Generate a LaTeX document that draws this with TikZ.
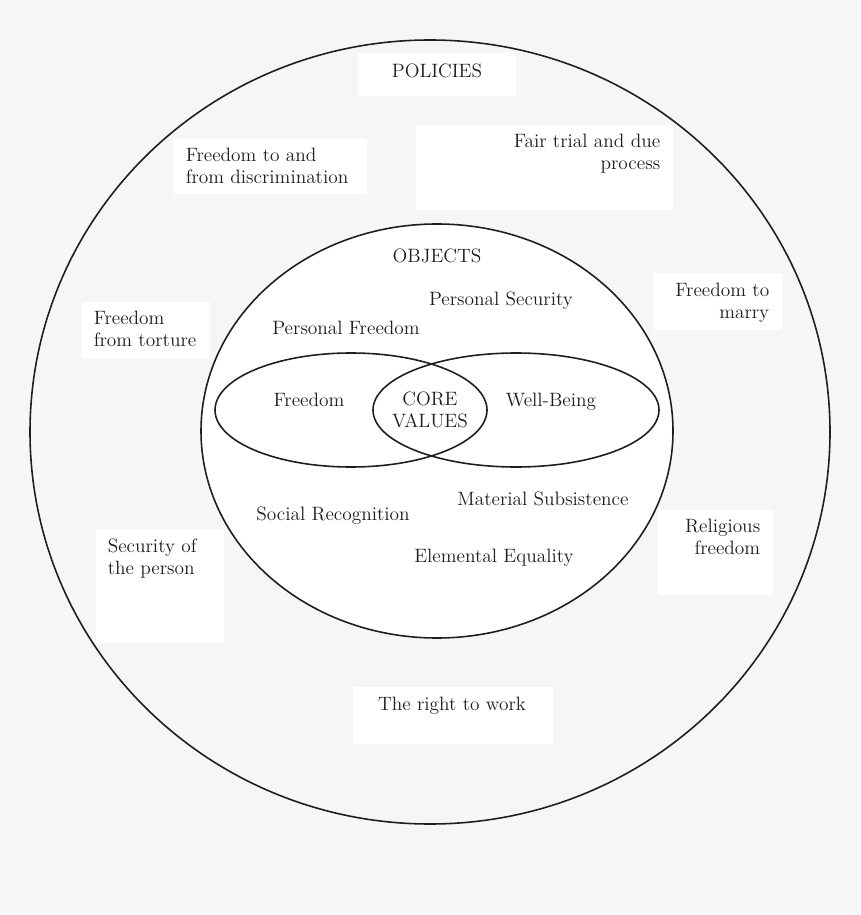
\documentclass[tikz,border=0pt]{standalone}
\usepackage{tikz}
\definecolor{bggray}{HTML}{F6F6F6}
\definecolor{inkgray}{HTML}{1E1E1E}
\tikzset{every picture/.style={line width=0.9pt}}

\begin{document}
\begin{tikzpicture}[x=0.02cm, y=-0.02cm,
    every node/.style={font=\fontsize{11}{12.5}\selectfont, inner sep=0pt, text=inkgray},
    whitebox/.style={fill=white},
    ring/.style={draw=inkgray}]
        \fill[bggray] (0,0) rectangle (860,915);
        \useasboundingbox (0,0) rectangle (860,915);
        % white label boxes of the policies ring
        \fill[whitebox] (358,53) rectangle (516,96);
        \fill[whitebox] (173,139) rectangle (367,194);
        \fill[whitebox] (416,125) rectangle (673,210);
        \fill[whitebox] (653,273) rectangle (782,330);
        \fill[whitebox] (82,302) rectangle (210,358);
        \fill[whitebox] (96,530) rectangle (224,643);
        \fill[whitebox] (658,510) rectangle (773,595);
        \fill[whitebox] (353,687) rectangle (553,744);
        % policies ring and objects ring
        \draw[ring] (430,432) ellipse [x radius=400, y radius=392];
        \draw[ring, fill=white] (437,431) ellipse [x radius=236, y radius=207];
        % freedom and well-being overlap in the core values
        \draw[ring] (351,410) ellipse [x radius=136, y radius=57];
        \draw[ring] (516,410) ellipse [x radius=143, y radius=57];
        % policies
        \node[anchor=base] (policies) at (437,78) {POLICIES};
        \node[anchor=west, align=left] (discrim) at (185,166) {Freedom to and\\from discrimination};
        \node[anchor=east, align=right] (trial) at (661,154) {Fair trial and due\\process};
        \node[anchor=east, align=right] (marry) at (770,303) {Freedom to\\marry};
        \node[anchor=west, align=left] (torture) at (93,329) {Freedom\\from torture};
        \node[anchor=west, align=left] (security) at (107,559) {Security of\\the person};
        \node[anchor=east, align=right] (religion) at (761,537) {Religious\\freedom};
        \node[anchor=base] (work) at (452,710) {The right to work};
        % objects
        \node[anchor=base] (objects) at (437,263) {OBJECTS};
        \node[anchor=base] (persec) at (501,305) {Personal Security};
        \node[anchor=base] (perfree) at (346,334) {Personal Freedom};
        \node[anchor=base] (socrec) at (333,520) {Social Recognition};
        \node[anchor=base] (matsub) at (543,505) {Material Subsistence};
        \node[anchor=base] (elemeq) at (494,562) {Elemental Equality};
        % core values
        \node[anchor=base] (freedom) at (309,406) {Freedom};
        \node[anchor=base] (wellbeing) at (551,406) {Well-Being};
        \node[align=center] (core) at (430,410) {CORE\\VALUES};
    \end{tikzpicture}
\end{document}
